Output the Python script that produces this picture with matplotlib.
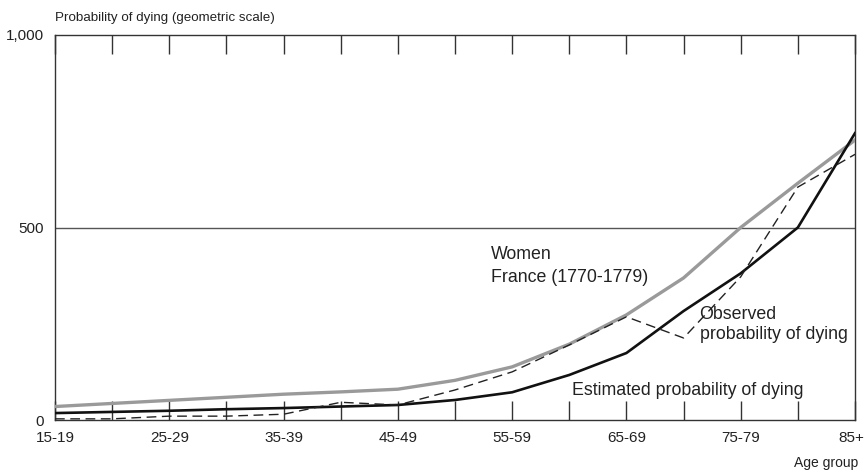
import matplotlib
matplotlib.use("Agg")
import matplotlib.pyplot as plt
import matplotlib.transforms as mtransforms
from matplotlib import font_manager

# Данные
age_groups = ["15-19", "20-24", "25-29", "30-34", "35-39", "40-44", "45-49",
              "50-54", "55-59", "60-64", "65-69", "70-74", "75-79", "80-84", "85+"]
reference = [35, 43, 51, 59, 67, 73, 80, 103, 138, 197, 273, 369, 500, 615, 727]
observed = [3, 3, 10, 10, 15, 46, 39, 78, 125, 195, 268, 213, 372, 605, 690]
estimated = [18, 21, 24, 28, 31, 35, 39, 52, 72, 117, 174, 283, 381, 500, 745]

# Шрифт: узкий, если есть
names = {f.name for f in font_manager.fontManager.ttflist}
family = "Liberation Sans Narrow" if "Liberation Sans Narrow" in names else "Liberation Sans"
plt.rcParams["font.family"] = [family, "DejaVu Sans"]

fig = plt.figure(figsize=(8.66, 4.70), dpi=100)
ax = fig.add_axes([55 / 866, 1 - 420 / 470, 800 / 866, 385 / 470])

x = list(range(len(age_groups)))
ax.plot(x, reference, color="#9a9a9a", lw=2.4, solid_joinstyle="round", zorder=3)
ax.plot(x, estimated, color="#111111", lw=1.9, zorder=4)
ax.plot(x, observed, color="#222222", lw=1.0, dashes=(7, 4), zorder=5)

ax.axhline(500, color="#555555", lw=1.0, zorder=1)

ax.set_xlim(0, len(age_groups) - 1)
ax.set_ylim(0, 1000)

ax.set_xticks(x)
ax.set_xticklabels([a if i % 2 == 0 else "" for i, a in enumerate(age_groups)])
ax.set_yticks([0, 500, 1000])
ax.set_yticklabels(["0", "500", "1,000"])
ax.tick_params(axis="x", direction="in", length=14, width=1.0, color="#333333",
               top=True, labelsize=11, pad=8, labelcolor="#222222")
ax.tick_params(axis="y", length=0, labelsize=11, pad=8, labelcolor="#222222")

# последняя подпись "85+" прижата к правому краю
last = ax.get_xticklabels()[-1]
last.set_ha("right")
last.set_transform(last.get_transform() +
                   mtransforms.ScaledTranslation(9 / 100, 0, fig.dpi_scale_trans))

for s in ax.spines.values():
    s.set_color("#333333")
    s.set_linewidth(1.0)

fig.text(55 / 866, 1 - 18 / 470, "Probability of dying (geometric scale)",
         fontsize=9.6, color="#222222", va="center", ha="left")
fig.text(858 / 866, 1 - 463 / 470, "Age group", fontsize=10, color="#222222",
         va="center", ha="right")

ax.text(7.63, 400, "Women\nFrance (1770-1779)", fontsize=12.8, color="#222222",
        va="center", ha="left", linespacing=1.5)
ax.text(11.28, 248, "Observed\nprobability of dying", fontsize=12.8, color="#222222",
        va="center", ha="left", linespacing=1.2)
ax.text(9.05, 76, "Estimated probability of dying", fontsize=12.8, color="#222222",
        va="center", ha="left")

fig.savefig("out.png", dpi=100)
